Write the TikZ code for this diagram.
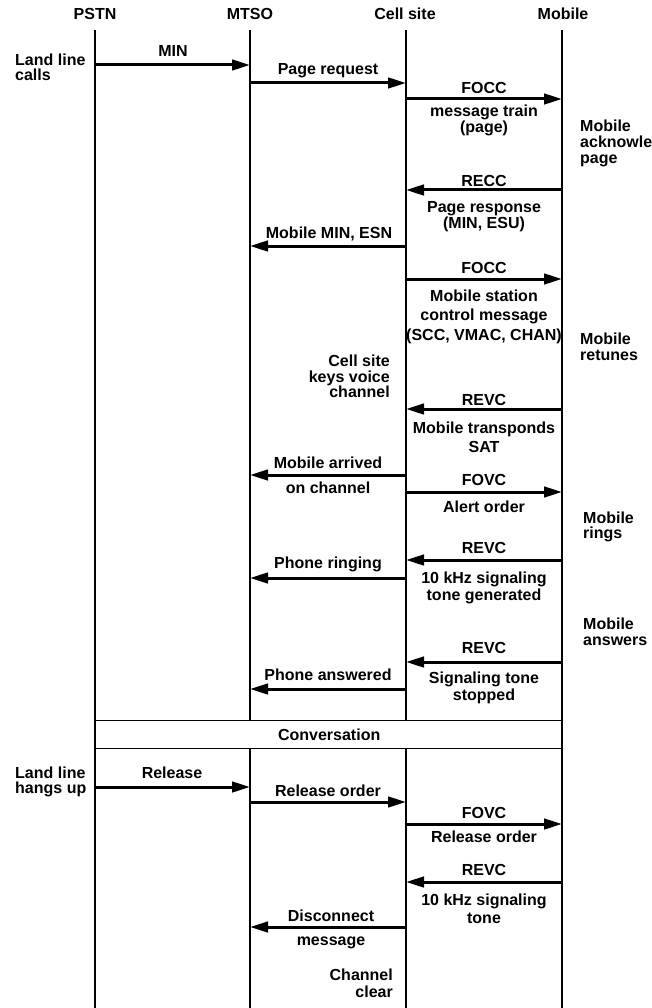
\documentclass[tikz,border=0pt]{standalone}
\usepackage{fontspec}
\setmainfont{Liberation Sans}
\usetikzlibrary{arrows.meta}
\tikzset{
  life/.style={line width=1.4pt},
  msg/.style={line width=3pt, -{Triangle[length=18pt,width=10.5pt]}},
  lbl/.style={anchor=base, inner sep=0pt, font=\fontsize{16}{18}\selectfont\bfseries},
  lbll/.style={lbl, anchor=base west},
  lblr/.style={lbl, anchor=base east},
}
\begin{document}
\begin{tikzpicture}[x=1pt,y=-1pt]
\useasboundingbox (0,0) rectangle (652,1008);
% headers
\node[lbl] (hP) at (95,20) {PSTN};
\node[lbl] (hM) at (250,20) {MTSO};
\node[lbl] (hC) at (405,20) {Cell site};
\node[lbl] (hO) at (563,20) {Mobile};
% lifelines
\coordinate (PT) at (95,30);  \coordinate (PB) at (95,1008);
\coordinate (MT) at (250,30); \coordinate (MA) at (250,720); \coordinate (MC) at (250,748); \coordinate (MB) at (250,1008);
\coordinate (CT) at (406,30); \coordinate (CA) at (406,720); \coordinate (CC) at (406,748); \coordinate (CB) at (406,1008);
\coordinate (OT) at (562,30); \coordinate (OB) at (562,1008);
\draw[life] (PT) -- (PB);
\draw[life] (MT) -- (MA);
\draw[life] (MC) -- (MB);
\draw[life] (CT) -- (CA);
\draw[life] (CC) -- (CB);
\draw[life] (OT) -- (OB);
% conversation box
\node[draw, life, anchor=north west, minimum width=467pt, minimum height=28pt, inner sep=0pt, font=\fontsize{16}{18}\selectfont\bfseries] (conv) at (95,720) {Conversation};
% side notes
\node[lbll] (n1a) at (15,66) {Land line};
\node[lbll] (n1b) at (15,81) {calls};
\node[lbll] (n2a) at (580,132) {Mobile};
\node[lbll] (n2b) at (580,148) {acknowledges};
\node[lbll] (n2c) at (580,164) {page};
\node[lblr] (n3a) at (390,366) {Cell site};
\node[lblr] (n3b) at (390,382) {keys voice};
\node[lblr] (n3c) at (390,397) {channel};
\node[lbll] (n4a) at (580,344) {Mobile};
\node[lbll] (n4b) at (580,360) {retunes};
\node[lbll] (n5a) at (583,523) {Mobile};
\node[lbll] (n5b) at (583,538) {rings};
\node[lbll] (n6a) at (583,629) {Mobile};
\node[lbll] (n6b) at (583,645) {answers};
\node[lbll] (n7a) at (15,778) {Land line};
\node[lbll] (n7b) at (15,793) {hangs up};
\node[lblr] (n8a) at (393,980) {Channel};
\node[lblr] (n8b) at (393,997) {clear};
% 1 MIN
\coordinate (a1) at (95,65); \coordinate (b1) at (250,65);
\draw[msg] (a1) -- (b1);
\node[lbl] (t1) at (173,57) {MIN};
% 2 Page request
\coordinate (a2) at (250,83); \coordinate (b2) at (406,83);
\draw[msg] (a2) -- (b2);
\node[lbl] (t2) at (328,75) {Page request};
% 3 FOCC
\coordinate (a3) at (406,99); \coordinate (b3) at (562,99);
\draw[msg] (a3) -- (b3);
\node[lbl] (t3a) at (484,94) {FOCC};
\node[lbl] (t3b) at (484,117) {message train};
\node[lbl] (t3c) at (484,133) {(page)};
% 4 RECC
\coordinate (a4) at (562,190); \coordinate (b4) at (406,190);
\draw[msg] (a4) -- (b4);
\node[lbl] (t4a) at (484,187) {RECC};
\node[lbl] (t4b) at (484,213) {Page response};
\node[lbl] (t4c) at (484,229) {(MIN, ESU)};
% 5 Mobile MIN, ESN
\coordinate (a5) at (406,246); \coordinate (b5) at (250,246);
\draw[msg] (a5) -- (b5);
\node[lbl] (t5) at (329,238) {Mobile MIN, ESN};
% 6 FOCC
\coordinate (a6) at (406,279); \coordinate (b6) at (562,279);
\draw[msg] (a6) -- (b6);
\node[lbl] (t6a) at (484,273) {FOCC};
\node[lbl] (t6b) at (484,301) {Mobile station};
\node[lbl] (t6c) at (484,320) {control message};
\node[lbl] (t6d) at (484,340) {(SCC, VMAC, CHAN)};
% 7 REVC
\coordinate (a7) at (562,409); \coordinate (b7) at (406,409);
\draw[msg] (a7) -- (b7);
\node[lbl] (t7a) at (484,405) {REVC};
\node[lbl] (t7b) at (484,433) {Mobile transponds};
\node[lbl] (t7c) at (484,452) {SAT};
% 8 Mobile arrived
\coordinate (a8) at (406,475); \coordinate (b8) at (250,475);
\draw[msg] (a8) -- (b8);
\node[lbl] (t8a) at (328,468) {Mobile arrived};
\node[lbl] (t8b) at (328,493) {on channel};
% 9 FOVC
\coordinate (a9) at (406,492); \coordinate (b9) at (562,492);
\draw[msg] (a9) -- (b9);
\node[lbl] (t9a) at (484,485) {FOVC};
\node[lbl] (t9b) at (484,512) {Alert order};
% 10 REVC
\coordinate (a10) at (562,560); \coordinate (b10) at (406,560);
\draw[msg] (a10) -- (b10);
\node[lbl] (t10a) at (484,553) {REVC};
\node[lbl] (t10b) at (484,583) {10 kHz signaling};
\node[lbl] (t10c) at (484,600) {tone generated};
% 11 Phone ringing
\coordinate (a11) at (406,578); \coordinate (b11) at (250,578);
\draw[msg] (a11) -- (b11);
\node[lbl] (t11) at (328,568) {Phone ringing};
% 12 REVC
\coordinate (a12) at (562,662); \coordinate (b12) at (406,662);
\draw[msg] (a12) -- (b12);
\node[lbl] (t12a) at (484,653) {REVC};
\node[lbl] (t12b) at (484,683) {Signaling tone};
\node[lbl] (t12c) at (484,700) {stopped};
% 13 Phone answered
\coordinate (a13) at (406,689); \coordinate (b13) at (250,689);
\draw[msg] (a13) -- (b13);
\node[lbl] (t13) at (328,680) {Phone answered};
% 14 Release
\coordinate (a14) at (95,787); \coordinate (b14) at (250,787);
\draw[msg] (a14) -- (b14);
\node[lbl] (t14) at (172,778) {Release};
% 15 Release order
\coordinate (a15) at (250,802); \coordinate (b15) at (406,802);
\draw[msg] (a15) -- (b15);
\node[lbl] (t15) at (328,796) {Release order};
% 16 FOVC
\coordinate (a16) at (406,824); \coordinate (b16) at (562,824);
\draw[msg] (a16) -- (b16);
\node[lbl] (t16a) at (484,818) {FOVC};
\node[lbl] (t16b) at (484,842) {Release order};
% 17 REVC
\coordinate (a17) at (562,882); \coordinate (b17) at (406,882);
\draw[msg] (a17) -- (b17);
\node[lbl] (t17a) at (484,875) {REVC};
\node[lbl] (t17b) at (484,905) {10 kHz signaling};
\node[lbl] (t17c) at (484,923) {tone};
% 18 Disconnect
\coordinate (a18) at (406,927); \coordinate (b18) at (250,927);
\draw[msg] (a18) -- (b18);
\node[lbl] (t18a) at (331,921) {Disconnect};
\node[lbl] (t18b) at (331,945) {message};
\end{tikzpicture}
\end{document}
